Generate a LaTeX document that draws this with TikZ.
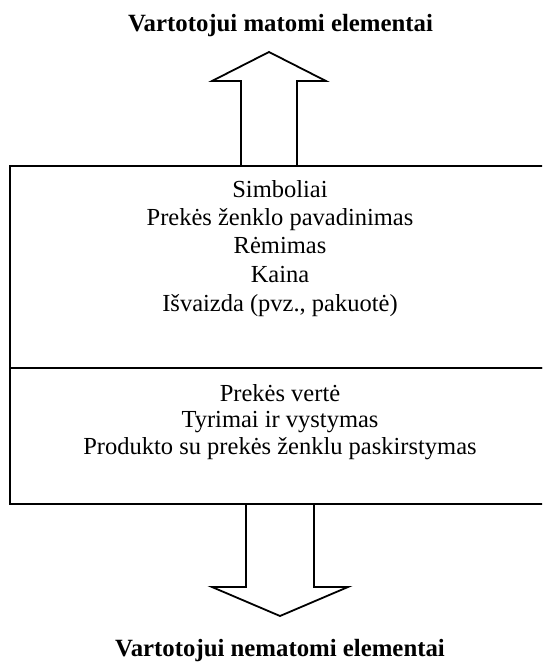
\documentclass[tikz,border=0pt]{standalone}
\usepackage{fontspec}
\setmainfont{Liberation Serif}
\begin{document}
\begin{tikzpicture}[x=1pt,y=-1pt,
  frame/.style={draw, line width=1.8pt, inner sep=0pt, anchor=north west},
  arrowline/.style={draw, line width=1.8pt, line join=miter},
  item/.style={anchor=base, inner sep=0pt, font=\fontsize{24.5}{28}\selectfont},
  heading/.style={anchor=base, inner sep=0pt, font=\fontsize{24.8}{29}\selectfont\bfseries}]
\useasboundingbox (0,0) rectangle (542,662);
\clip (0,0) rectangle (542,662);

% two stacked boxes, right edge runs past the page
\node[frame, minimum width=542pt, minimum height=202pt] (upper) at (9,165) {};
\node[frame, minimum width=542pt, minimum height=136pt] (lower) at (9,367) {};

% headings
\node[heading] (visible) at (280.5,31) {Vartotojui matomi elementai};
\node[heading] (hidden) at (280,656) {Vartotojui nematomi elementai};

% upper box contents
\node[item] (u1) at (280,197) {Simboliai};
\node[item] (u2) at (280,225) {Prekės ženklo pavadinimas};
\node[item] (u3) at (280,253) {Rėmimas};
\node[item] (u4) at (280,282) {Kaina};
\node[item] (u5) at (280,311) {Išvaizda (pvz., pakuotė)};

% lower box contents
\node[item] (l1) at (280,401) {Prekės vertė};
\node[item] (l2) at (280,427) {Tyrimai ir vystymas};
\node[item] (l3) at (280,454) {Produkto su prekės ženklu paskirstymas};

% block arrow pointing up from the upper box
\coordinate (upfoot) at (269,165);
\coordinate (uptip) at (269,52);
\draw[arrowline] ([xshift=-28pt]upfoot) -- ++(0,-84) -- ++(-29,0) -- (uptip)
  -- ++(57,29) -- ++(-29,0) -- ([xshift=28pt]upfoot);

% block arrow pointing down from the lower box
\coordinate (downfoot) at (280,503);
\coordinate (downtip) at (280,616);
\draw[arrowline] ([xshift=-34pt]downfoot) -- ++(0,84) -- ++(-34,0) -- (downtip)
  -- ++(68,-29) -- ++(-34,0) -- ([xshift=34pt]downfoot);
\end{tikzpicture}
\end{document}
